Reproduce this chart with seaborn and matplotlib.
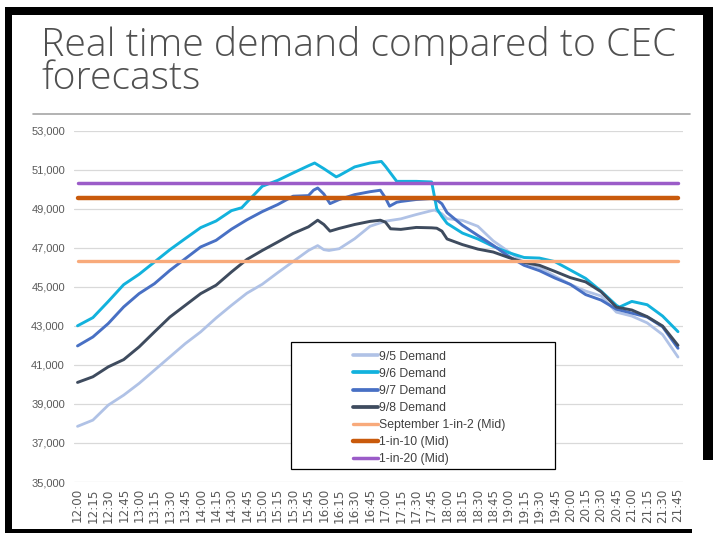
import matplotlib
matplotlib.use("Agg")
import matplotlib.pyplot as plt
import seaborn as sns
import pandas as pd
from matplotlib.patches import Rectangle
from matplotlib.lines import Line2D

# ---------------- data ----------------
d95_time = ["12:00","12:15","12:30","12:45","13:00","13:15","13:30","13:45","14:00","14:15","14:30","14:45",
            "15:00","15:15","15:30","15:45","15:54","16:00","16:05","16:15","16:30","16:45","17:00","17:15",
            "17:30","17:45","17:48","17:55","18:00","18:15","18:30","18:45","19:00","19:15","19:30","19:45",
            "20:00","20:15","20:30","20:45","21:00","21:15","21:30","21:45"]
d95_mw = [37850,38170,38940,39450,40050,40730,41410,42090,42690,43400,44050,44670,
          45130,45720,46290,46860,47110,46900,46860,46950,47460,48100,48360,48480,
          48700,48900,48930,48740,48490,48400,48100,47350,46800,46250,45980,45550,
          45125,44780,44530,43700,43500,43150,42550,41400]

d96_time = ["12:00","12:15","12:30","12:45","13:00","13:15","13:30","13:45","14:00","14:15","14:30","14:40",
            "14:45","15:00","15:15","15:30","15:45","15:51","16:00","16:12","16:15","16:30","16:45","16:56",
            "17:00","17:11","17:15","17:30","17:45","17:50","17:55","18:00","18:15","18:30","18:45","19:00",
            "19:15","19:30","19:45","20:00","20:15","20:30","20:45","20:48","21:00","21:15","21:30","21:45"]
d96_mw = [43000,43420,44250,45110,45640,46270,46900,47470,48030,48370,48900,49050,
          49330,50150,50450,50830,51200,51340,51050,50630,50700,51140,51340,51420,
          51170,50400,50400,50400,50370,49000,48600,48250,47750,47450,47070,46750,
          46500,46470,46290,45860,45430,44780,44050,43960,44250,44080,43500,42700]

d97_time = ["12:00","12:15","12:30","12:45","13:00","13:15","13:30","13:45","14:00","14:15","14:30","14:45",
            "15:00","15:15","15:30","15:45","15:50","15:54","16:00","16:06","16:15","16:30","16:45","16:55",
            "17:00","17:04","17:11","17:15","17:30","17:45","17:50","17:55","18:00","18:15","18:30","18:45",
            "19:00","19:15","19:30","19:45","20:00","20:15","20:30","20:45","21:00","21:15","21:30","21:45"]
d97_mw = [41970,42430,43120,43970,44650,45160,45840,46440,47040,47380,47950,48430,
          48850,49210,49640,49670,49950,50060,49750,49260,49470,49720,49870,49945,
          49550,49130,49330,49370,49470,49520,49450,49250,48800,48150,47630,47120,
          46560,46100,45825,45450,45125,44600,44320,43850,43650,43450,42950,41850]

d98_time = ["12:00","12:15","12:30","12:45","13:00","13:15","13:30","13:45","14:00","14:15","14:30","14:45",
            "15:00","15:15","15:30","15:45","15:54","16:00","16:06","16:15","16:30","16:45","16:55","17:00",
            "17:05","17:15","17:30","17:45","17:50","17:55","18:00","18:15","18:30","18:45","19:00","19:15",
            "19:30","19:45","20:00","20:15","20:30","20:45","21:00","21:15","21:30","21:45"]
d98_mw = [40100,40390,40900,41270,41920,42690,43450,44050,44650,45080,45760,46400,
          46860,47290,47730,48070,48410,48190,47850,47990,48190,48350,48410,48310,
          47970,47940,48040,48020,48000,47850,47450,47160,46930,46780,46500,46250,
          46100,45790,45470,45250,44750,43960,43810,43470,42990,42000]

forecast_names = ["September 1-in-2 (Mid)", "1-in-10 (Mid)", "1-in-20 (Mid)"]
forecast_mw = [46320, 49550, 50310]

demand_names = ["9/5 Demand", "9/6 Demand", "9/7 Demand", "9/8 Demand"]
tick_labels = [f"{h}:{m:02d}" for h in range(12, 22) for m in (0, 15, 30, 45)]
y_ticks = list(range(35000, 53001, 2000))

title_lines = ["Real time demand compared to CEC", "forecasts"]

# ---------------- styling ----------------
demand_colors = ["#B0C2E6", "#12B2DD", "#4870C4", "#3E4B5E"]
demand_lw = [2.0, 2.1, 2.1, 2.1]
forecast_colors = ["#F8AA7B", "#C95A0C", "#9B5CC8"]
forecast_lw = [2.4, 3.2, 2.5]

W, H = 713, 537
sns.set_theme(style="white")
plt.rcParams['font.family'] = ['DejaVu Sans']

def to_min(t):
    h, m = t.split(":")
    return (int(h) - 12) * 60 + int(m)

def fx(px):
    return px / W

def fy(py):
    return 1 - py / H

fig = plt.figure(figsize=(W / 100, H / 100), dpi=100)
fig.patch.set_facecolor("white")

ax_left, ax_right, ax_top, ax_bot = 74, 683, 130.6, 482
ax = fig.add_axes([fx(ax_left), fy(ax_bot), (ax_right - ax_left) / W, (ax_bot - ax_top) / H])
ax.set_facecolor("white")

tick_min = [to_min(t) for t in tick_labels]
px_per_min = (678 - 77.5) / (tick_min[-1] - tick_min[0])

handles = []
series = [(d95_time, d95_mw), (d96_time, d96_mw), (d97_time, d97_mw), (d98_time, d98_mw)]
for (times, vals), name, c, lw in zip(series, demand_names, demand_colors, demand_lw):
    df = pd.DataFrame({"minute": [to_min(t) for t in times], "MW": vals})
    sns.lineplot(data=df, x="minute", y="MW", ax=ax, color=c, lw=lw, legend=False,
                 solid_capstyle="round", solid_joinstyle="round")
    handles.append(Line2D([], [], color=c, lw=lw + 0.6))

for name, v, c, lw in zip(forecast_names, forecast_mw, forecast_colors, forecast_lw):
    df = pd.DataFrame({"minute": [tick_min[0], tick_min[-1]], "MW": [v, v]})
    sns.lineplot(data=df, x="minute", y="MW", ax=ax, color=c, lw=lw, legend=False)
    handles.append(Line2D([], [], color=c, lw=lw))

ax.set_ylim(35000, 53000)
ax.set_xlim(tick_min[0] - (77.5 - ax_left) / px_per_min, tick_min[-1] + (ax_right - 678) / px_per_min)
ax.set_yticks(y_ticks)
ax.set_yticklabels([f"{v:,}" for v in y_ticks], family="Liberation Sans", fontsize=8, color="#595959")
ax.set_xticks(tick_min)
ax.set_xticklabels(tick_labels, rotation=90, fontsize=8.6, color="#595959")
ax.tick_params(axis="both", length=0)
ax.tick_params(axis="x", pad=4.5)
ax.tick_params(axis="y", pad=6.5)
ax.yaxis.grid(True, color="#D9D9D9", lw=0.9)
ax.xaxis.grid(False)
ax.set_xlabel("")
ax.set_ylabel("")
for s in ax.spines.values():
    s.set_visible(False)

# legend box + legend
box = Rectangle((fx(291), fy(469)), (555 - 291) / W, (469 - 342) / H, transform=fig.transFigure,
                facecolor="white", edgecolor="black", lw=0.9, zorder=5)
fig.add_artist(box)
leg = fig.legend(handles, demand_names + forecast_names, loc="upper left",
                 bbox_to_anchor=(fx(347), fy(344.5)), frameon=False, borderpad=0,
                 handlelength=2.0, handletextpad=0.15, labelspacing=0.42,
                 prop={"family": "Liberation Sans", "size": 8.8})
for t in leg.get_texts():
    t.set_color("#404040")
leg.set_zorder(6)

# title: one wrapped text, width fitted to the reference
fig.canvas.draw()
renderer = fig.canvas.get_renderer()
title_font = dict(family="Open Sans", fontweight="light", color="#505050")
probe = fig.text(0, 0, title_lines[0], fontsize=28, **title_font)
fs = 28 * (676 - 41) / probe.get_window_extent(renderer).width
probe.set_fontsize(fs)
h1 = probe.get_window_extent(renderer).height
probe.set_text("\n".join(title_lines))
probe.set_linespacing(1.0)
hA = probe.get_window_extent(renderer).height
probe.set_linespacing(2.0)
hB = probe.get_window_extent(renderer).height
b = hB - hA
a = (hA - h1) - b
ls = (33 - a) / b if b > 0 else 1.0
probe.remove()
# multi-line text with va="baseline" anchors the last line's baseline
fig.text(fx(41), fy(89), "\n".join(title_lines), fontsize=fs, va="baseline", ha="left",
         linespacing=ls, **title_font)

# separator line under title
fig.add_artist(Line2D([fx(33), fx(690)], [fy(113.5), fy(113.5)], transform=fig.transFigure,
                      color="#A6A6A6", lw=1.2))

# slide frame
frame = [(5, 7, 713, 15), (5, 7, 12, 533), (5, 529, 692, 533), (703, 7, 713, 460)]
for x0, y0, x1, y1 in frame:
    fig.add_artist(Rectangle((fx(x0), fy(y1)), (x1 - x0) / W, (y1 - y0) / H,
                             transform=fig.transFigure, facecolor="black", edgecolor="none", zorder=10))

fig.savefig("out.png", dpi=100, facecolor="white")
